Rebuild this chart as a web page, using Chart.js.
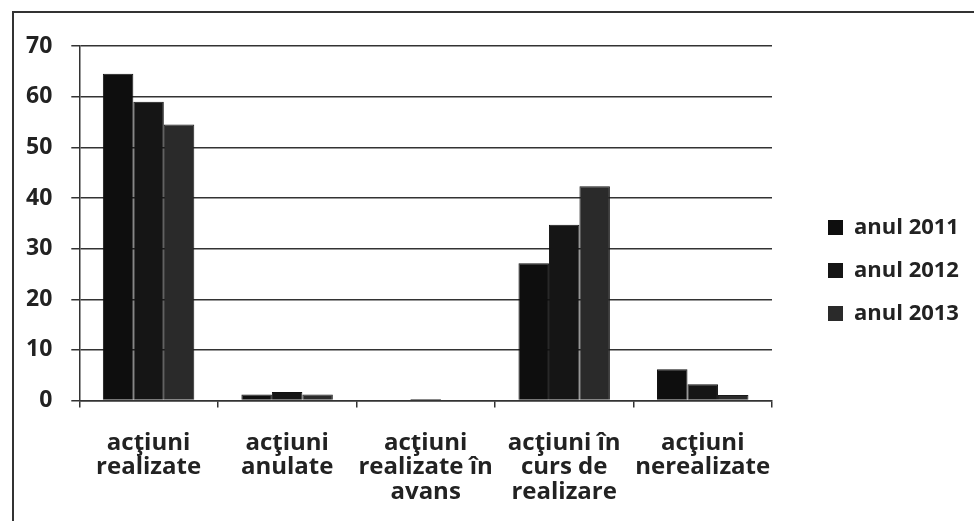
<!DOCTYPE html>
<html>
<head>
<meta charset="utf-8">
<script src="https://cdn.jsdelivr.net/npm/chart.js@4"></script>
<style>
  body { margin: 0; background: #fff; overflow: hidden; }
  #cadru { position: absolute; left: 12px; top: 11px; width: 1000px; height: 600px;
           border-left: 2px solid #333; border-top: 2px solid #333; }
  #wrap { position: absolute; left: 0; top: 0; width: 974px; height: 521px; }
</style>
</head>
<body>
<div id="cadru"></div>
<div id="wrap"><canvas id="grafic"></canvas></div>
<script>
var categorii = [
    ["acţiuni", "realizate"],
    ["acţiuni", "anulate"],
    ["acţiuni", "realizate în", "avans"],
    ["acţiuni în", "curs de", "realizare"],
    ["acţiuni", "nerealizate"]
];
var anul2011 = [64.5, 1.2, 0, 27.1, 6.2];
var anul2012 = [59, 1.7, 0.3, 34.7, 3.2];
var anul2013 = [54.5, 1.2, 0, 42.3, 1.1];
var ticksY = [0, 10, 20, 30, 40, 50, 60, 70];

var font = "'Open Sans', Lato, sans-serif";

// legenda: latime fixa si mutata putin spre dreapta, ca in original
var legendaMutata = {
    id: 'legendaMutata',
    afterInit: function (chart) {
        var lg = chart.legend;
        var fit = lg.fit;
        lg.fit = function () {
            fit.call(this);
            this.width = 202;
        };
    },
    afterLayout: function (chart) {
        var lg = chart.legend;
        lg.left += 35;
        lg.right += 35;
        lg.top -= 16;
        lg.bottom -= 16;
    }
};

var ctx = document.getElementById("grafic");
var grafic = new Chart(ctx, {
    type: 'bar',
    data: {
        labels: categorii,
        datasets: [{
            label: 'anul 2011',
            data: anul2011,
            backgroundColor: '#0e0e0e',
            borderColor: '#111',
            borderWidth: 1
        }, {
            label: 'anul 2012',
            data: anul2012,
            backgroundColor: '#151515',
            borderColor: '#111',
            borderWidth: 1
        }, {
            label: 'anul 2013',
            data: anul2013,
            backgroundColor: '#2a2a2a',
            borderColor: '#1a1a1a',
            borderWidth: 1
        }]
    },
    options: {
        responsive: true,
        maintainAspectRatio: false,
        animation: false,
        datasets: {
            bar: { categoryPercentage: 0.66, barPercentage: 1 }
        },
        layout: {
            padding: { left: 7, top: 46, right: 0, bottom: -6 }
        },
        plugins: {
            tooltip: { enabled: false },
            legend: {
                position: 'right',
                align: 'center',
                labels: {
                    boxWidth: 15,
                    boxHeight: 15,
                    padding: 21,
                    color: '#222',
                    font: { family: font, size: 22, weight: 'bold' },
                    generateLabels: function (chart) {
                        return chart.data.datasets.map(function (ds, i) {
                            return {
                                text: ds.label,
                                fillStyle: ds.backgroundColor,
                                strokeStyle: ds.backgroundColor,
                                lineWidth: 0,
                                datasetIndex: i,
                                fontColor: '#222'
                            };
                        });
                    }
                }
            }
        },
        scales: {
            x: {
                grid: {
                    offset: true,
                    drawOnChartArea: false,
                    drawTicks: true,
                    tickLength: 7,
                    color: '#333',
                    lineWidth: 1.5
                },
                border: { color: '#333', width: 1.5 },
                ticks: {
                    color: '#222',
                    maxRotation: 0,
                    autoSkip: false,
                    padding: 23,
                    font: { family: font, size: 24, weight: 'bold', lineHeight: 1.02 }
                }
            },
            y: {
                min: 0,
                max: 70,
                afterBuildTicks: function (axis) {
                    axis.ticks = ticksY.map(function (v) { return { value: v }; });
                },
                grid: {
                    color: '#333',
                    lineWidth: 1.5,
                    tickLength: 8
                },
                border: { color: '#333', width: 1.5 },
                ticks: {
                    color: '#222',
                    padding: 19,
                    font: { family: font, size: 23, weight: 'bold' }
                }
            }
        }
    },
    plugins: [legendaMutata]
});
</script>
</body>
</html>
